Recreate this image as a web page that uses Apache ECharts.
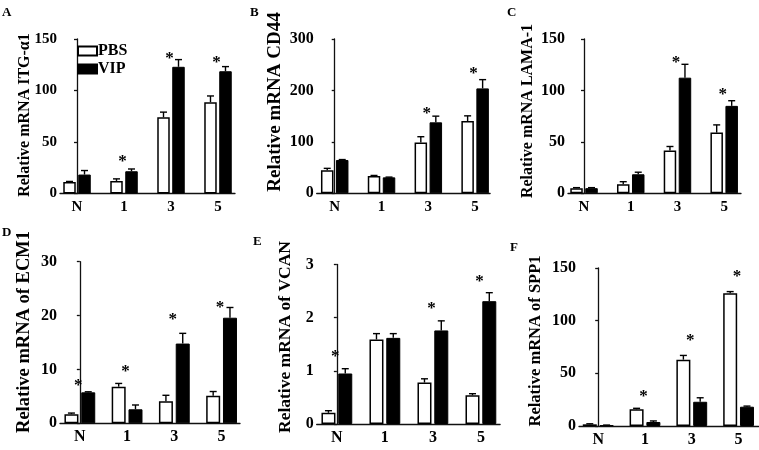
<!DOCTYPE html>
<html>
<head>
<meta charset="utf-8">
<script src="https://cdn.jsdelivr.net/npm/echarts/dist/echarts.min.js"></script>
<style>
  html, body { margin: 0; padding: 0; background: #fff; }
  #chart { width: 759px; height: 450px; }
</style>
</head>
<body>
<div id="chart"></div>
<script>
// ---------------- DATA ----------------
const categories = ['N', '1', '3', '5'];
const seriesNames = ['PBS', 'VIP'];

// A: ITG-α1
const itgTitle = 'Relative mRNA ITG-α1';
const itgTicks = [0, 50, 100, 150];
const itgPBS = [11.2, 12.2, 74, 88.7];
const itgPBSErr = [0.5, 2, 5, 6];
const itgVIP = [18.4, 21.6, 123, 118.7];
const itgVIPErr = [3.9, 2.2, 7, 4.5];
const itgStar = [null, 35.6, 136.3, 132.4];

// B: CD44
const cd44Title = 'Relative mRNA CD44';
const cd44Ticks = [0, 100, 200, 300];
const cd44PBS = [45, 33.7, 99, 140.6];
const cd44PBSErr = [3.5, 1, 11, 10];
const cd44VIP = [64.8, 31, 138, 204];
const cd44VIPErr = [0.8, 0.5, 12, 17];
const cd44Star = [null, null, 165, 243];

// C: LAMA-1
const lamaTitle = 'Relative mRNA LAMA-1';
const lamaTicks = [0, 50, 100, 150];
const lamaPBS = [5, 8.7, 41.5, 59];
const lamaPBSErr = [0.5, 2.6, 4, 7.5];
const lamaVIP = [5, 18.5, 112.4, 85];
const lamaVIPErr = [0.5, 2, 13, 5];
const lamaStar = [null, null, 132, 101];

// D: ECM1
const ecmTitle = 'Relative mRNA of ECM1';
const ecmTicks = [0, 10, 20, 30];
const ecmPBS = [1.7, 6.8, 4.1, 5.1];
const ecmPBSErr = [0.2, 0.6, 1.1, 0.8];
const ecmVIP = [5.75, 2.6, 14.8, 19.6];
const ecmVIPErr = [0.1, 0.8, 1.9, 1.9];
const ecmStar = [8.0, 10.5, 20.1, 22.4];

// E: VCAN
const vcanTitle = 'Relative mRNA of VCAN';
const vcanTicks = [0, 1, 2, 3];
const vcanPBS = [0.21, 1.59, 0.78, 0.54];
const vcanPBSErr = [0.04, 0.11, 0.07, 0.03];
const vcanVIP = [0.95, 1.62, 1.76, 2.31];
const vcanVIPErr = [0.09, 0.08, 0.18, 0.16];
const vcanStar = [1.36, null, 2.27, 2.77];

// F: SPP1
const sppTitle = 'Relative mRNA of SPP1';
const sppTicks = [0, 50, 100, 150];
const sppPBS = [1.6, 15.8, 63, 126];
const sppPBSErr = [0.5, 1, 4, 1.6];
const sppVIP = [0.6, 3.8, 23, 18.3];
const sppVIPErr = [0.3, 1, 3.8, 0.6];
const sppStar = [null, 32.6, 85.7, 146.5];

const panelLetters = ['A', 'B', 'C', 'D', 'E', 'F'];

// ---------------- ASSEMBLY ----------------
const panels = [
  { title: itgTitle,  ticks: itgTicks,  pbs: itgPBS,  pbsErr: itgPBSErr,  vip: itgVIP,  vipErr: itgVIPErr,  star: itgStar },
  { title: cd44Title, ticks: cd44Ticks, pbs: cd44PBS, pbsErr: cd44PBSErr, vip: cd44VIP, vipErr: cd44VIPErr, star: cd44Star },
  { title: lamaTitle, ticks: lamaTicks, pbs: lamaPBS, pbsErr: lamaPBSErr, vip: lamaVIP, vipErr: lamaVIPErr, star: lamaStar },
  { title: ecmTitle,  ticks: ecmTicks,  pbs: ecmPBS,  pbsErr: ecmPBSErr,  vip: ecmVIP,  vipErr: ecmVIPErr,  star: ecmStar },
  { title: vcanTitle, ticks: vcanTicks, pbs: vcanPBS, pbsErr: vcanPBSErr, vip: vcanVIP, vipErr: vcanVIPErr, star: vcanStar },
  { title: sppTitle,  ticks: sppTicks,  pbs: sppPBS,  pbsErr: sppPBSErr,  vip: sppVIP,  vipErr: sppVIPErr,  star: sppStar }
];

// ---------------- LAYOUT / STYLE ----------------
const FONT = '"Liberation Serif", "Times New Roman", serif';
const layout = [
  { left: 60,    top: 39,    height: 154.5, width: 175,   xMin: -0.362, xMax: 3.362, barW: 12.5, tickFont: 15, catFont: 15, nameX: 25,  nameY: 115, nameFont: 16,   letterX: 2,   letterY: 6 },
  { left: 316.7, top: 39,    height: 154.3, width: 173.4, xMin: -0.385, xMax: 3.32,  barW: 12.5, tickFont: 16, catFont: 15, nameX: 275, nameY: 102, nameFont: 19,   letterX: 250, letterY: 6 },
  { left: 568,   top: 39,    height: 154.3, width: 173,   xMin: -0.343, xMax: 3.36,  barW: 12.5, tickFont: 16, catFont: 15, nameX: 528, nameY: 111, nameFont: 16,   letterX: 507, letterY: 6 },
  { left: 60,    top: 261.7, height: 161.6, width: 180,   xMin: -0.42,  xMax: 3.39,  barW: 14,   tickFont: 16, catFont: 16, nameX: 24,  nameY: 332, nameFont: 18.5, letterX: 2,   letterY: 226 },
  { left: 316.7, top: 264.5, height: 159.5, width: 183.4, xMin: -0.42,  xMax: 3.4,   barW: 14,   tickFont: 16, catFont: 16, nameX: 285, nameY: 337, nameFont: 17.5, letterX: 253, letterY: 235 },
  { left: 579,   top: 268,   height: 158,   width: 179.7, xMin: -0.41,  xMax: 3.43,  barW: 14,   tickFont: 16, catFont: 16, nameX: 536, nameY: 341, nameFont: 16.5, letterX: 510, letterY: 241 }
];
const BAR_GAP_RATIO = 0.2;
const AXIS_COLOR = '#111';

const chart = echarts.init(document.getElementById('chart'), null, { renderer: 'canvas' });

const grids = [], xAxes = [], yAxes = [], series = [], graphics = [];

panels.forEach((p, k) => {
  const L = layout[k];
  grids.push({ left: L.left, top: L.top, width: L.width, height: L.height });
  xAxes.push({
    gridIndex: k, type: 'value', min: L.xMin, max: L.xMax,
    axisLine: { show: true, onZero: false, lineStyle: { color: AXIS_COLOR, width: 1.3 } },
    axisTick: { show: false },
    splitLine: { show: false },
    axisLabel: {
      customValues: categories.map((c, i) => i),
      formatter: v => categories[Math.round(v)],
      fontFamily: FONT, fontWeight: 'bold', fontSize: L.catFont, color: '#000', margin: 6
    }
  });
  const t = p.ticks;
  yAxes.push({
    gridIndex: k, type: 'value', min: t[0], max: t[t.length - 1], interval: t[1] - t[0],
    axisLine: { show: true, lineStyle: { color: AXIS_COLOR, width: 1.3 } },
    axisTick: { show: true, length: 3, lineStyle: { color: AXIS_COLOR, width: 1.3 } },
    splitLine: { show: false },
    axisLabel: { fontFamily: FONT, fontWeight: 'bold', fontSize: L.tickFont, color: '#000', margin: 3 }
  });
  const gapPct = (BAR_GAP_RATIO * 100) + '%';
  series.push({
    type: 'bar', name: seriesNames[0], xAxisIndex: k, yAxisIndex: k,
    data: p.pbs.map((v, i) => [i, v]),
    barWidth: L.barW, barGap: gapPct,
    itemStyle: { color: '#fff', borderColor: '#000', borderWidth: 1.5 },
    z: 2
  });
  series.push({
    type: 'bar', name: seriesNames[1], xAxisIndex: k, yAxisIndex: k,
    data: p.vip.map((v, i) => [i, v]),
    barWidth: L.barW, barGap: gapPct,
    itemStyle: { color: '#000', borderColor: '#000', borderWidth: 1 },
    z: 2
  });
  const halfOff = (L.barW * (1 + BAR_GAP_RATIO)) / 2;
  series.push({
    type: 'custom', xAxisIndex: k, yAxisIndex: k, silent: true, z: 3,
    data: categories.map((c, i) => [i, p.pbs[i], p.pbsErr[i], p.vip[i], p.vipErr[i], p.star[i] == null ? -1 : p.star[i]]),
    renderItem: function (params, api) {
      const i = api.value(0);
      const children = [];
      [[1, 2, -1], [3, 4, 1]].forEach(function (d) {
        const v = api.value(d[0]), e = api.value(d[1]);
        if (!(e > 0)) return;
        const p0 = api.coord([i, v]);
        const p1 = api.coord([i, v + e]);
        const x = p0[0] + d[2] * halfOff;
        const sty = { stroke: '#000', lineWidth: 1.4 };
        children.push({ type: 'line', shape: { x1: x, y1: p0[1], x2: x, y2: p1[1] }, style: sty });
        children.push({ type: 'line', shape: { x1: x - 3.5, y1: p1[1], x2: x + 3.5, y2: p1[1] }, style: sty });
      });
      const s = api.value(5);
      if (s >= 0) {
        const ps = api.coord([i, s]);
        children.push({
          type: 'text', x: ps[0] - 1.5, y: ps[1] + 5,
          style: { text: '*', fill: '#000', font: 'bold 17px ' + FONT, align: 'center', verticalAlign: 'middle' }
        });
      }
      return { type: 'group', children: children };
    }
  });
  graphics.push({
    type: 'text', x: L.nameX, y: L.nameY, rotation: Math.PI / 2,
    style: { text: p.title, fill: '#000', font: 'bold ' + L.nameFont + 'px ' + FONT, align: 'center', verticalAlign: 'middle' }
  });
  graphics.push({
    type: 'text', x: L.letterX, y: L.letterY,
    style: { text: panelLetters[k], fill: '#000', font: 'bold 13px ' + FONT, align: 'left', verticalAlign: 'top' }
  });
});

chart.setOption({
  animation: false,
  backgroundColor: '#fff',
  legend: {
    data: seriesNames, left: 72, top: 38, orient: 'vertical',
    itemWidth: 19, itemHeight: 9, itemGap: 2, icon: 'rect', selectedMode: false,
    textStyle: { fontFamily: FONT, fontWeight: 'bold', fontSize: 16, color: '#000', padding: [0, 0, 0, -4] }
  },
  grid: grids,
  xAxis: xAxes,
  yAxis: yAxes,
  series: series,
  graphic: graphics
});
</script>
</body>
</html>
